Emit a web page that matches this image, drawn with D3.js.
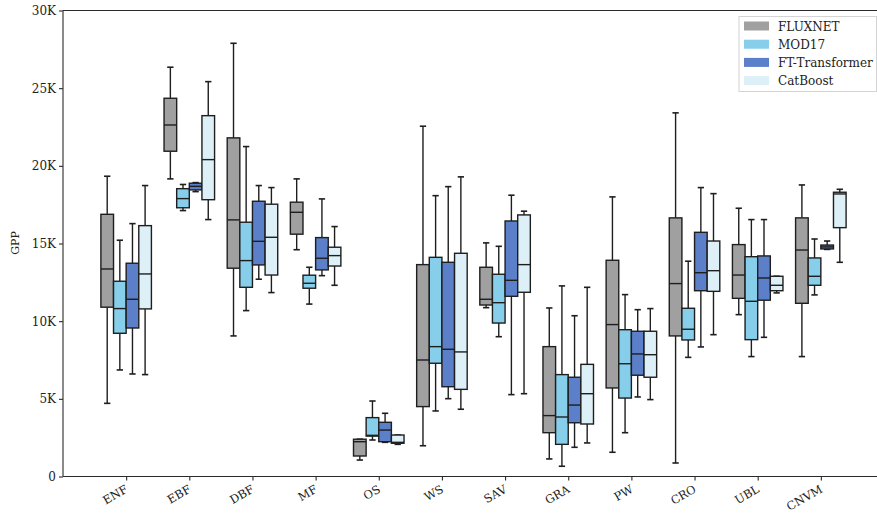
<!DOCTYPE html>
<html>
<head>
<meta charset="utf-8">
<script src="https://cdn.jsdelivr.net/npm/d3@7"></script>
<style>
  html, body { margin: 0; padding: 0; background: #ffffff; }
  svg { display: block; }
  text { font-family: "DejaVu Serif", serif; fill: #222; }
</style>
</head>
<body>
<svg id="chart" width="877" height="513"></svg>
<script>
// Biome categories (x axis)
const categories = ["ENF", "EBF", "DBF", "MF", "OS", "WS", "SAV", "GRA", "PW", "CRO", "UBL", "CNVM"];

// Series names and fills
const seriesNames = ["FLUXNET", "MOD17", "FT-Transformer", "CatBoost"];
const seriesColors = ["#a0a0a0", "#87ceeb", "#5b7fc9", "#def0f7"];

// Box statistics per category, in thousands of GPP units:
// [lower whisker, Q1, median, Q3, upper whisker]
const fluxnet = [
  [4.71, 10.9, 13.36, 16.88, 19.33],
  [19.16, 20.94, 22.63, 24.35, 26.35],
  [9.05, 13.41, 16.52, 21.8, 27.89],
  [14.6, 15.6, 17.01, 17.66, 19.16],
  [1.06, 1.32, 2.24, 2.40, 2.40],
  [1.98, 4.5, 7.5, 13.64, 22.55],
  [10.87, 11.04, 11.41, 13.47, 15.04],
  [1.13, 2.82, 3.92, 8.36, 10.85],
  [1.56, 5.7, 9.78, 13.92, 18.0],
  [0.87, 9.05, 12.42, 16.65, 23.41],
  [10.42, 11.47, 12.97, 14.93, 17.27],
  [7.72, 11.15, 14.58, 16.65, 18.77]
];
const mod17 = [
  [6.86, 9.22, 10.81, 12.57, 15.21],
  [17.12, 17.3, 17.89, 18.53, 18.8],
  [10.68, 12.18, 13.9, 16.37, 21.24],
  [11.1, 12.12, 12.44, 12.96, 13.47],
  [2.35, 2.6, 2.65, 3.79, 4.86],
  [4.22, 7.29, 8.36, 14.11, 18.08],
  [9.0, 9.88, 11.19, 13.02, 14.82],
  [0.66, 2.07, 3.83, 6.56, 12.27],
  [2.82, 5.05, 7.26, 9.45, 11.71],
  [7.67, 8.79, 9.48, 10.83, 13.86],
  [7.72, 8.81, 11.28, 14.15, 16.54],
  [11.69, 12.31, 12.89, 14.07, 15.29]
];
const ftTransformer = [
  [6.6, 9.56, 11.41, 13.73, 16.28],
  [18.34, 18.45, 18.68, 18.88, 18.92],
  [12.7, 13.62, 15.14, 17.72, 18.73],
  [12.93, 13.3, 14.05, 15.38, 17.87],
  [2.2, 2.24, 2.99, 3.49, 4.07],
  [5.01, 5.78, 8.19, 13.79, 18.66],
  [5.27, 11.6, 12.63, 16.45, 18.11],
  [1.88, 3.46, 4.6, 6.39, 10.35],
  [5.12, 6.52, 7.89, 9.35, 10.74],
  [8.34, 11.96, 13.12, 15.72, 18.6],
  [8.96, 11.35, 12.78, 14.2, 16.54],
  [14.62, 14.65, 14.78, 14.9, 15.16]
];
const catBoost = [
  [6.56, 10.79, 13.04, 16.15, 18.73],
  [16.54, 17.82, 20.4, 23.23, 25.42],
  [11.84, 12.97, 15.4, 17.53, 18.6],
  [12.31, 13.55, 14.22, 14.76, 16.09],
  [2.07, 2.14, 2.2, 2.67, 2.67],
  [4.33, 5.61, 8.02, 14.37, 19.29],
  [5.33, 11.86, 13.64, 16.84, 17.08],
  [2.16, 3.38, 5.33, 7.22, 12.18],
  [4.95, 6.39, 7.84, 9.35, 10.81],
  [9.13, 11.92, 13.25, 15.16, 18.21],
  [11.82, 11.96, 12.31, 12.89, 12.89],
  [13.79, 16.02, 18.19, 18.3, 18.49]
];

const yTicks = [0, 5, 10, 15, 20, 25, 30];
const yTickLabels = ["0", "5K", "10K", "15K", "20K", "25K", "30K"];
const yLabel = "GPP";

const allSeries = [fluxnet, mod17, ftTransformer, catBoost];

const svg = d3.select("#chart");
const plotLeft = 63, plotRight = 884, plotTop = 10.5, plotBottom = 476.5;

// Categories sit at positions 1..12 on a 0..13 linear axis
const x = d3.scaleLinear().domain([0, 13]).range([plotLeft, plotRight]);
const y = d3.scaleLinear().domain([0, 30]).range([plotBottom, plotTop]);

const boxW = 0.2;                      // box width in axis units
const offsets = [-0.3, -0.1, 0.1, 0.3]; // centre offset of each series in a group
const stroke = "#1e1e1e";

const plot = svg.append("g");

allSeries.forEach((series, s) => {
  series.forEach((d, i) => {
    const [lo, q1, med, q3, hi] = d;
    const cx = i + 1 + offsets[s];
    const x0 = x(cx - boxW / 2), x1 = x(cx + boxW / 2);
    const xc = x(cx);
    const capHalf = (x1 - x0) / 4;
    const g = plot.append("g");
    // whiskers
    g.append("line").attr("x1", xc).attr("x2", xc).attr("y1", y(q3)).attr("y2", y(hi))
      .attr("stroke", stroke).attr("stroke-width", 1.4);
    g.append("line").attr("x1", xc).attr("x2", xc).attr("y1", y(q1)).attr("y2", y(lo))
      .attr("stroke", stroke).attr("stroke-width", 1.4);
    // caps
    [lo, hi].forEach(v => {
      g.append("line").attr("x1", xc - capHalf).attr("x2", xc + capHalf)
        .attr("y1", y(v)).attr("y2", y(v))
        .attr("stroke", stroke).attr("stroke-width", 1.6);
    });
    // box
    g.append("rect").attr("x", x0).attr("y", y(q3))
      .attr("width", x1 - x0).attr("height", Math.max(0.5, y(q1) - y(q3)))
      .attr("fill", seriesColors[s]).attr("stroke", stroke).attr("stroke-width", 1.4);
    // median
    g.append("line").attr("x1", x0).attr("x2", x1).attr("y1", y(med)).attr("y2", y(med))
      .attr("stroke", stroke).attr("stroke-width", 1.4);
  });
});

// Axes
const axisColor = "#2a2a2a";
const yAxis = svg.append("g").attr("transform", `translate(${plotLeft},0)`)
  .call(d3.axisLeft(y).tickValues(yTicks).tickFormat((d, i) => yTickLabels[i]).tickSize(4).tickPadding(3));
const xAxis = svg.append("g").attr("transform", `translate(0,${plotBottom})`)
  .call(d3.axisBottom(x).tickValues(d3.range(1, 13)).tickFormat(d => categories[d - 1]).tickSize(4));

[yAxis, xAxis].forEach(a => {
  a.select(".domain").attr("stroke", axisColor).attr("stroke-width", 1.1);
  a.selectAll(".tick line").attr("stroke", axisColor).attr("stroke-width", 1.1);
  a.selectAll(".tick text").attr("fill", "#222").style("font-size", "12px")
    .style("font-family", '"DejaVu Serif", serif');
});
yAxis.select(".domain").attr("d", `M0,${plotTop}V${plotBottom}`);
xAxis.select(".domain").attr("d", `M${plotLeft},0H${plotRight}`);

xAxis.selectAll(".tick text")
  .style("font-size", "11.5px")
  .attr("text-anchor", "end")
  .attr("dy", null)
  .attr("y", 0)
  .attr("transform", "translate(2,15) rotate(-30)");

// top spine
svg.append("line").attr("x1", plotLeft).attr("x2", plotRight).attr("y1", plotTop).attr("y2", plotTop)
  .attr("stroke", axisColor).attr("stroke-width", 1.1);
// right spine
svg.append("line").attr("x1", plotRight).attr("x2", plotRight).attr("y1", plotTop).attr("y2", plotBottom)
  .attr("stroke", axisColor).attr("stroke-width", 1.1);

// y label
svg.append("text").attr("transform", "translate(19,243) rotate(-90)")
  .attr("text-anchor", "middle").style("font-size", "11px").text(yLabel);

// Legend
const lg = svg.append("g").attr("transform", "translate(739,16.5)");
lg.append("rect").attr("x", 0).attr("y", 0).attr("width", 137.5).attr("height", 75)
  .attr("fill", "#ffffff").attr("fill-opacity", 0.85).attr("stroke", "#d4d4d4").attr("stroke-width", 1);
seriesNames.forEach((name, i) => {
  const cy = 9.5 + i * 18.2;
  lg.append("rect").attr("x", 5).attr("y", cy - 4.5).attr("width", 25).attr("height", 9)
    .attr("fill", seriesColors[i]);
  lg.append("text").attr("x", 39).attr("y", cy + 4.5).style("font-size", "12px").text(name);
});
</script>
</body>
</html>
